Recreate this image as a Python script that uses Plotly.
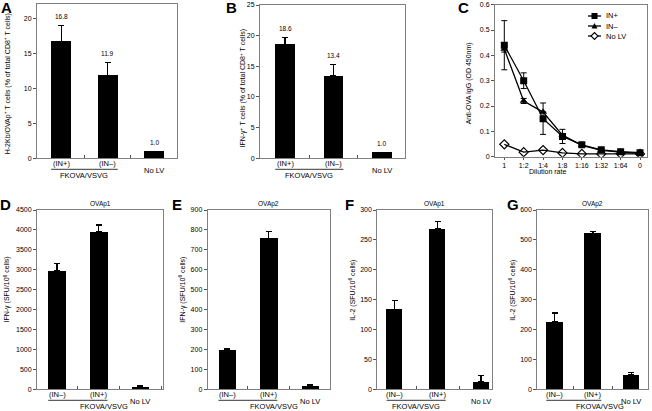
import plotly.graph_objects as go

W, H = 652, 411
FONT = "Liberation Sans, Arial, sans-serif"

# ---------------- data ----------------
ab_cats = ["(IN+)", "(IN–)", "No LV"]
a_vals = [16.8, 11.9, 1.0]
a_errs = [2.3, 1.9, 0.0]
b_vals = [18.6, 13.4, 1.0]
b_errs = [1.1, 1.9, 0.0]

c_dil = ["1", "1:2", "1:4", "1:8", "1:16", "1:32", "1:64", "0"]
c_inp = [0.44, 0.30, 0.15, 0.08, 0.047, 0.027, 0.020, 0.016]
c_inp_err = [0.097, 0.031, 0.062, 0.028, 0.005, 0.004, 0.003, 0.003]
c_inm = [0.425, 0.22, 0.176, 0.085, 0.045, 0.025, 0.018, 0.013]
c_inm_err = [0.012, 0.010, 0.0, 0.0, 0.0, 0.0, 0.0, 0.0]
c_nolv = [0.049, 0.018, 0.026, 0.015, 0.011, 0.011, 0.012, 0.011]
c_series = ["IN+", "IN–", "No LV"]

dg_cats = ["(IN–)", "(IN+)", "No LV"]
d_vals = [2980, 3950, 50]
d_errs = [180, 170, 30]
e_vals = [197, 758, 18]
e_errs = [8, 33, 3]
f_vals = [134, 268, 13]
f_errs = [15, 13, 10]
g_vals = [225, 522, 48]
g_errs = [30, 6, 8]

group_label = "FKOVA/VSVG"

# ---------------- layout geometry (pixels) ----------------
def px_dom_x(a, b):
    return [a / W, b / W]

def px_dom_y(top, bottom):
    return [1 - bottom / H, 1 - top / H]

panels = {
    # name: (axis idx, xpix, ypix(top,bottom), xrange, yrange, dtick)
    "A": (1, (37, 177), (4, 158.3), [-0.52, 2.49], [0, 22.15], 5),
    "B": (2, (260, 405), (5, 158.3), [-0.52, 2.48], [0, 25], 5),
    "C": (3, (495, 647), (4.7, 156.7), [-0.48, 7.36], [0, 0.6], 0.1),
    "D": (4, (37, 163), (210, 389.3), [-0.48, 2.54], [0, 4500], 500),
    "E": (5, (207.7, 330), (210, 389.3), [-0.47, 2.48], [0, 900], 100),
    "F": (6, (377.3, 491.7), (210, 389.3), [-0.40, 2.25], [0, 300], 50),
    "G": (7, (537.3, 648.3), (210, 389.3), [-0.45, 2.44], [0, 600], 100),
}

fig = go.Figure()
LINEC = "#808080"

annotations = []
shapes = []

def axname(i, a):
    return a if i == 1 else f"{a}{i}"

for name, (i, xp, yp, xr, yr, dt) in panels.items():
    xa = dict(domain=px_dom_x(*xp), range=xr, showline=True, mirror=True,
              linecolor=LINEC, linewidth=1, showgrid=False, zeroline=False,
              anchor=axname(i, "y"), type="category", automargin=False,
              tickfont=dict(size=7, color="black", family=FONT))
    ya = dict(domain=px_dom_y(*yp), range=yr, showline=True, mirror=True,
              linecolor=LINEC, linewidth=1, showgrid=False, zeroline=False,
              anchor=axname(i, "x"), ticks="outside", ticklen=3, tickcolor="#555",
              dtick=dt, tick0=0, automargin=False,
              tickfont=dict(size=7, color="black", family=FONT))
    if name == "C":
        xa.update(ticks="outside", ticklen=2, tickcolor="#555", showticklabels=True)
    else:
        xa.update(ticks="inside", tickson="boundaries", ticklen=3, tickcolor="#555",
                  showticklabels=False)
    fig.update_layout(**{"xaxis" if i == 1 else f"xaxis{i}": xa,
                         "yaxis" if i == 1 else f"yaxis{i}": ya})

def add_bar_panel(name, cats, vals, errs, bw):
    i, xp, yp, xr, yr, dt = panels[name]
    xr_ = axname(i, "x")
    yr_ = axname(i, "y")
    fig.add_trace(go.Bar(
        x=cats, y=vals, width=bw, marker=dict(color="black", line=dict(width=0)),
        error_y=dict(type="data", array=errs, arrayminus=[0] * len(errs),
                     symmetric=False, color="black", thickness=1.3, width=3),
        xaxis=xr_, yaxis=yr_, showlegend=False))
    for c in cats:
        annotations.append(dict(x=c, y=0, xref=xr_, yref=f"{yr_} domain",
                                text=c, showarrow=False, yanchor="middle",
                                yshift=-12 if c == "No LV" else -5.5,
                                font=dict(size=7.5, family=FONT, color="black")))
    x0 = (0 - bw / 2 - xr[0]) / (xr[1] - xr[0])
    x1 = (1 + bw / 2 - xr[0]) / (xr[1] - xr[0])
    shapes.append(dict(type="line", xref=f"{xr_} domain", yref=f"{yr_} domain",
                       x0=x0, x1=x1, ysizemode="pixel", yanchor=0, y0=-11, y1=-11,
                       line=dict(color="black", width=0.8)))
    annotations.append(dict(x=(x0 + x1) / 2, y=0, xref=f"{xr_} domain",
                            yref=f"{yr_} domain", text=group_label, showarrow=False,
                            yanchor="middle", yshift=-17,
                            font=dict(size=7.5, family=FONT, color="black")))

def add_value_labels(name, cats, vals, errs):
    i = panels[name][0]
    for c, v, e in zip(cats, vals, errs):
        annotations.append(dict(x=c, y=v + e, xref=axname(i, "x"), yref=axname(i, "y"),
                                text=f"{v:.1f}", showarrow=False, yanchor="bottom",
                                yshift=3, font=dict(size=6.5, family=FONT, color="black")))

add_bar_panel("A", ab_cats, a_vals, a_errs, 0.43)
add_value_labels("A", ab_cats, a_vals, a_errs)
add_bar_panel("B", ab_cats, b_vals, b_errs, 0.41)
add_value_labels("B", ab_cats, b_vals, b_errs)
add_bar_panel("D", dg_cats, d_vals, d_errs, 0.42)
add_bar_panel("E", dg_cats, e_vals, e_errs, 0.42)
add_bar_panel("F", dg_cats, f_vals, f_errs, 0.37)
add_bar_panel("G", dg_cats, g_vals, g_errs, 0.43)

# Panel C line chart
c_markers = [dict(symbol="square", size=7, color="black"),
             dict(symbol="triangle-up", size=7, color="black"),
             dict(symbol="diamond-open", size=7, color="black",
                  line=dict(width=1.2, color="black"))]
c_data = [(c_inp, c_inp_err), (c_inm, c_inm_err), (c_nolv, None)]
for nm, mk, (ys, es) in zip(c_series, c_markers, c_data):
    tr = go.Scatter(x=c_dil, y=ys, name=nm, mode="lines+markers",
                    line=dict(color="black", width=1.3), marker=mk,
                    xaxis="x3", yaxis="y3", showlegend=False)
    if es is not None:
        tr.error_y = dict(type="data", array=es, color="black", thickness=1, width=3)
    fig.add_trace(tr)

# legend for panel C (drawn as key, rows ~10px apart)
leg_x0, leg_x1, leg_txt = 588, 601, 604
for k, nm in enumerate(c_series):
    py = 16 + k * 10
    yy = 1 - py / H
    shapes.append(dict(type="line", xref="paper", yref="paper",
                       x0=leg_x0 / W, x1=leg_x1 / W, y0=yy, y1=yy,
                       line=dict(color="black", width=1.3)))
    cx = (leg_x0 + leg_x1) / 2
    if k == 0:
        shapes.append(dict(type="rect", xref="paper", yref="paper",
                           x0=(cx - 3) / W, x1=(cx + 3) / W,
                           y0=1 - (py + 3) / H, y1=1 - (py - 3) / H,
                           fillcolor="black", line=dict(width=0)))
    elif k == 1:
        path = (f"M{(cx - 3) / W},{1 - (py + 2.5) / H} L{(cx + 3) / W},{1 - (py + 2.5) / H} "
                f"L{cx / W},{1 - (py - 3) / H} Z")
        shapes.append(dict(type="path", xref="paper", yref="paper", path=path,
                           fillcolor="black", line=dict(width=0)))
    else:
        path = (f"M{(cx - 3.5) / W},{yy} L{cx / W},{1 - (py - 3.5) / H} "
                f"L{(cx + 3.5) / W},{yy} L{cx / W},{1 - (py + 3.5) / H} Z")
        shapes.append(dict(type="path", xref="paper", yref="paper", path=path,
                           fillcolor="white", line=dict(color="black", width=1.1)))
    annotations.append(dict(x=leg_txt / W, y=yy, xref="paper", yref="paper", text=nm,
                            showarrow=False, xanchor="left", yanchor="middle",
                            font=dict(size=7.5, family=FONT, color="black")))

# y axis titles
ytitles = [
    ("H-2Kb/OVAp<sup>+</sup> T cells (% of total CD8<sup>+</sup> T cells)", 8.3, 84),
    ("IFN-γ<sup>+</sup> T cells (% of total CD8<sup>+</sup> T cells)", 243.5, 88),
    ("Anti-OVA IgG (OD 450nm)", 469.3, 83),
    ("IFN-γ (SFU/10<sup>6</sup> cells)", 6.5, 290),
    ("IFN-γ (SFU/10<sup>6</sup> cells)", 181.7, 290),
    ("IL-2 (SFU/10<sup>6</sup> cells)", 351.7, 290),
    ("IL-2 (SFU/10<sup>6</sup> cells)", 511.7, 290),
]
for t, x, y in ytitles:
    annotations.append(dict(x=x / W, y=1 - y / H, xref="paper", yref="paper", text=t,
                            textangle=-90, showarrow=False, xanchor="center",
                            yanchor="middle",
                            font=dict(size=7, family=FONT, color="black")))

annotations.append(dict(x=568 / W, y=1 - 171.7 / H, xref="paper", yref="paper",
                        text="Dilution rate", showarrow=False, yanchor="middle",
                        font=dict(size=7, family=FONT, color="black")))

for name, t in [("D", "OVAp1"), ("E", "OVAp2"), ("F", "OVAp1"), ("G", "OVAp2")]:
    i = panels[name][0]
    annotations.append(dict(x=0.5, y=1, xref=f"{axname(i, 'x')} domain",
                            yref=f"{axname(i, 'y')} domain", text=t, showarrow=False,
                            yanchor="bottom", yshift=0,
                            font=dict(size=6.5, family=FONT, color="black")))

for L, x, y in [("A", 6, 8), ("B", 231.5, 8), ("C", 463, 8),
                ("D", 5.5, 205), ("E", 176.5, 205), ("F", 349, 205), ("G", 513, 205)]:
    annotations.append(dict(x=x / W, y=1 - y / H, xref="paper", yref="paper", text=f"<b>{L}</b>",
                            showarrow=False, xanchor="center", yanchor="middle",
                            font=dict(size=15, family=FONT, color="black")))

fig.update_layout(
    width=W, height=H, margin=dict(l=0, r=0, t=0, b=0, autoexpand=False),
    paper_bgcolor="white", plot_bgcolor="white",
    font=dict(family=FONT, size=7, color="black"),
    annotations=annotations, shapes=shapes,
    showlegend=False,
    bargap=0,
)

fig.write_html("out.html", config={"displayModeBar": False},
               post_script="document.body.style.margin='0px';document.body.style.overflow='hidden';")
